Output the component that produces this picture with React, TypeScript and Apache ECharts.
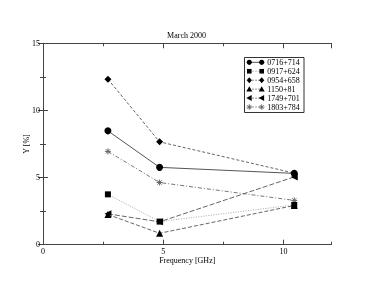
import React, { useEffect, useRef } from "react";
import * as echarts from "echarts";

const frequencies = [2.7, 4.85, 10.45];
const seriesNames = ["0716+714", "0917+624", "0954+658", "1150+81", "1749+701", "1803+784"];
const s0716 = [8.48, 5.76, 5.31];
const s0917 = [3.75, 1.72, 2.96];
const s0954 = [12.33, 7.66, 5.33];
const s1150 = [2.25, 0.85, 2.92];
const s1749 = [2.3, 1.7, 5.05];
const s1803 = [6.95, 4.63, 3.3];
const xTicks = [0, 5, 10];
const yTicks = [0, 5, 10, 15];

const FONT = "Liberation Serif";
const ASTERISK = "path://M0,-1L0,1M-1,0L1,0M-0.7,-0.7L0.7,0.7M-0.7,0.7L0.7,-0.7";

type Style = {
  symbol: string;
  rotate: number;
  dash: number[] | "solid";
  color: string;
  size: number;
};

const styles: Style[] = [
  { symbol: "circle", rotate: 0, dash: "solid", color: "#555", size: 7 },
  { symbol: "rect", rotate: 0, dash: [1, 1.5], color: "#aaa", size: 6 },
  { symbol: "diamond", rotate: 0, dash: [3, 2], color: "#666", size: 7 },
  { symbol: "triangle", rotate: 0, dash: [4, 2], color: "#666", size: 7 },
  { symbol: "triangle", rotate: 90, dash: [5, 2], color: "#666", size: 7 },
  { symbol: ASTERISK, rotate: 0, dash: [4, 2, 1, 2], color: "#777", size: 6 },
];

function legendSymbol(i: number, cx: number, cy: number): any[] {
  const st = { fill: "#000", stroke: "#000", lineWidth: 0 };
  const r = 2.6;
  switch (i) {
    case 0:
      return [{ type: "circle", shape: { cx, cy, r }, style: st }];
    case 1:
      return [{ type: "rect", shape: { x: cx - 2.3, y: cy - 2.3, width: 4.6, height: 4.6 }, style: st }];
    case 2:
      return [{ type: "polygon", shape: { points: [[cx, cy - 3], [cx + 2.6, cy], [cx, cy + 3], [cx - 2.6, cy]] }, style: st }];
    case 3:
      return [{ type: "polygon", shape: { points: [[cx, cy - 3], [cx + 3, cy + 2.4], [cx - 3, cy + 2.4]] }, style: st }];
    case 4:
      return [{ type: "polygon", shape: { points: [[cx - 3, cy], [cx + 2.4, cy - 3], [cx + 2.4, cy + 3]] }, style: st }];
    default: {
      const ls = { stroke: "#555", lineWidth: 0.8 };
      const d = 2.8;
      const e = 2;
      return [
        { type: "line", shape: { x1: cx, y1: cy - d, x2: cx, y2: cy + d }, style: ls },
        { type: "line", shape: { x1: cx - d, y1: cy, x2: cx + d, y2: cy }, style: ls },
        { type: "line", shape: { x1: cx - e, y1: cy - e, x2: cx + e, y2: cy + e }, style: ls },
        { type: "line", shape: { x1: cx - e, y1: cy + e, x2: cx + e, y2: cy - e }, style: ls },
      ];
    }
  }
}

export default function App() {
  const ref = useRef<HTMLDivElement>(null);
  useEffect(() => {
    if (!ref.current) return;
    const chart = echarts.init(ref.current, null, { renderer: "svg" });
    const data = [s0716, s0917, s0954, s1150, s1749, s1803];

    const series = seriesNames.map((name, i) => ({
      name,
      type: "line",
      xAxisIndex: 0,
      yAxisIndex: 0,
      data: frequencies.map((f, k) => [f, data[i][k]]),
      symbol: styles[i].symbol,
      symbolSize: styles[i].size,
      symbolRotate: styles[i].rotate,
      itemStyle: i === 5
        ? { color: "#666", borderColor: "#666", borderWidth: 1 }
        : { color: "#000", borderWidth: 0 },
      lineStyle: { color: styles[i].color, width: 1, type: styles[i].dash },
      z: 10 - i,
    }));

    const legendX0 = 249.3;
    const legendX1 = 261.7;
    const legendY0 = 62.3;
    const legendDy = 8.95;
    const legendChildren: any[] = [
      {
        type: "rect",
        shape: { x: 244.5, y: 57.5, width: 59.5, height: 55 },
        style: { fill: "#fff", stroke: "#333", lineWidth: 1 },
      },
    ];
    seriesNames.forEach((name, i) => {
      const y = legendY0 + legendDy * i;
      legendChildren.push({
        type: "line",
        shape: { x1: legendX0, y1: y, x2: legendX1, y2: y },
        style: {
          stroke: styles[i].color,
          lineWidth: 1,
          lineDash: styles[i].dash === "solid" ? null : [1.5, 1.5],
        },
      });
      legendChildren.push(...legendSymbol(i, legendX0, y));
      legendChildren.push(...legendSymbol(i, legendX1, y));
      legendChildren.push({
        type: "text",
        x: 267.3,
        y,
        style: {
          text: name,
          fontFamily: FONT,
          fontSize: 8,
          fill: "#000",
          verticalAlign: "middle",
          align: "left",
        },
      });
    });

    const axisLine = { show: true, lineStyle: { color: "#444", width: 1 } };
    const major = { show: true, inside: true, length: 5, lineStyle: { color: "#444", width: 1 } };
    const minor = { show: true, inside: true, length: 3, lineStyle: { color: "#444", width: 1 } };
    const labelStyle = { fontFamily: FONT, fontSize: 8, color: "#000" };

    chart.setOption({
      animation: false,
      textStyle: { fontFamily: FONT },
      title: {
        text: "March 2000",
        left: "center",
        top: 26,
        textStyle: { fontFamily: FONT, fontSize: 8, fontWeight: "normal", color: "#000" },
      },
      grid: { left: 43, right: 41.5, top: 43.3, bottom: 43.3 },
      xAxis: [
        {
          type: "value",
          position: "bottom",
          min: 0,
          max: 12,
          interval: 5,
          axisLine,
          axisTick: major,
          splitLine: { show: false },
          axisLabel: {
            ...labelStyle,
            margin: 3,
            showMaxLabel: false,
            formatter: (v: number) => (xTicks.includes(v) ? String(v) : ""),
          },
          name: "Frequency [GHz]",
          nameLocation: "middle",
          nameGap: 11.5,
          nameMoveOverlap: false,
          nameTextStyle: { fontFamily: FONT, fontSize: 8, color: "#000" },
        },
        {
          type: "value",
          position: "bottom",
          min: 0,
          max: 12,
          interval: 2.5,
          axisLine: { show: false },
          axisTick: minor,
          axisLabel: { show: false },
          splitLine: { show: false },
        },
        {
          type: "value",
          position: "top",
          min: 0,
          max: 12,
          interval: 5,
          axisLine,
          axisTick: major,
          axisLabel: { show: false },
          splitLine: { show: false },
        },
        {
          type: "value",
          position: "top",
          min: 0,
          max: 12,
          interval: 2.5,
          axisLine: { show: false },
          axisTick: minor,
          axisLabel: { show: false },
          splitLine: { show: false },
        },
      ],
      yAxis: [
        {
          type: "value",
          position: "left",
          min: 0,
          max: 15,
          interval: 5,
          axisLine,
          axisTick: major,
          minorTick: { show: true, splitNumber: 2, length: 3, lineStyle: { color: "#444", width: 1 } },
          splitLine: { show: false },
          minorSplitLine: { show: false },
          axisLabel: {
            ...labelStyle,
            margin: 3,
            formatter: (v: number) => (yTicks.includes(v) ? String(v) : ""),
          },
          name: "Y [%]",
          nameLocation: "middle",
          nameGap: 13,
          nameMoveOverlap: false,
          nameTextStyle: { fontFamily: FONT, fontSize: 8, color: "#000" },
        },
        {
          type: "value",
          position: "right",
          min: 0,
          max: 15,
          interval: 5,
          axisLine,
          axisTick: major,
          minorTick: { show: true, splitNumber: 2, length: 3, lineStyle: { color: "#444", width: 1 } },
          splitLine: { show: false },
          minorSplitLine: { show: false },
          axisLabel: { show: false },
        },
      ],
      series,
      graphic: [{ type: "group", z: 100, children: legendChildren }],
    });
    return () => chart.dispose();
  }, []);
  return (
    <div
      ref={ref}
      style={{ position: "fixed", left: 0, top: 0, width: 373, height: 288, background: "#fff", filter: "grayscale(1)" }}
    />
  );
}
